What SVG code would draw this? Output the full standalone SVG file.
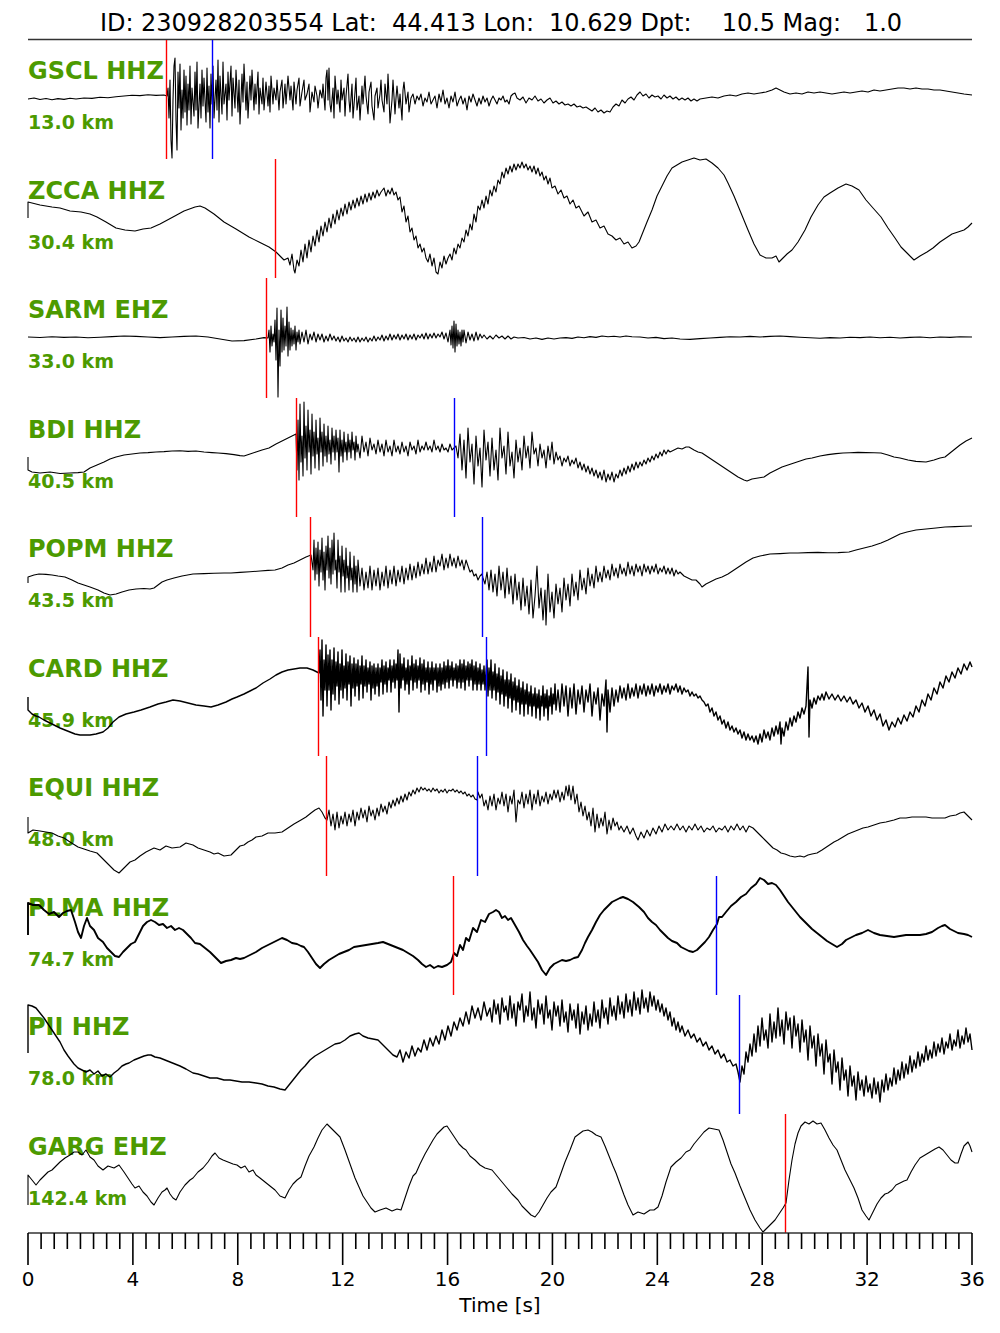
<svg xmlns="http://www.w3.org/2000/svg" width="1000" height="1333" viewBox="0 0 1000 1333">
<style>
.bg{fill:#ffffff}
.title{font-family:"DejaVu Sans","Liberation Sans",sans-serif;font-size:24px;fill:#000;white-space:pre}
.sta{font-family:"DejaVu Sans","Liberation Sans",sans-serif;font-size:24px;font-weight:bold;fill:#4c9a00}
.dist{font-family:"DejaVu Sans","Liberation Sans",sans-serif;font-size:19px;font-weight:bold;fill:#4c9a00}
.tick{font-family:"DejaVu Sans","Liberation Sans",sans-serif;font-size:20px;fill:#000;text-anchor:middle}
.tr{fill:none;stroke:#000;stroke-width:1.1;stroke-linejoin:round}
.fz{stroke-width:1.9}
.fz2{stroke-width:1.4}
.pk{stroke:#ff0000;stroke-width:1.4}
.sk{stroke:#0000ff;stroke-width:1.4}
.frame{stroke:#333;stroke-width:1.5;fill:none}
.tk{stroke:#000;stroke-width:1.6;fill:none}
</style>
<rect class="bg" x="0" y="0" width="1000" height="1333"/>
<text class="title" x="100" y="31" textLength="802" lengthAdjust="spacing">ID: 230928203554 Lat:  44.413 Lon:  10.629 Dpt:    10.5 Mag:   1.0</text>
<line class="frame" x1="28" y1="39.5" x2="972" y2="39.5"/>

<g id="row-GSCL">
<text class="sta" x="28" y="79">GSCL HHZ</text>
<text class="dist" x="28" y="129">13.0 km</text>
<path class="tr" d="M28,99 L34,98 40,99.5 46,98.5 52,99.8 58,98.6 64,99.4 70,98.2 76,99 84,98 92,98.4 100,97.2 108,97.8 116,96.8 124,96 132,95.2 140,95.6 148,94.8 156,95.4 164,95 167,96 168,88 169,118 170,80 171,140 172,158 173,100 174,66 175,58 176,120 177,150 178,72 179,108 180,64 181,130 182,90 183,118 184,70 185,112 186,76 187,125 188,84 189,110 190,66 191,124 192,88 194,116 195,72 196,110 197,62 198,128 200,84 201,118 202,70 203,106 204,78 206,122 207,68 208,112 209,86 210,128 211,74 212,104 213,66 214,118 216,80 217,110 218,60 219,122 220,76 222,114 223,62 224,104 226,84 227,120 228,72 229,100 231,66 232,116 233,78 235,108 236,70 238,112 239,80 240,124 242,74 243,102 244,64 246,110 247,82 248,118 250,76 251,100 252,70 254,110 255,84 256,104 258,72 259,114 260,88 262,104 263,78 264,110 266,82 268,106 269,86 270,112 271,76 273,104 274,88 276,100 277,80 279,110 280,92 282,80 283,108 285,84 286,104 288,76 290,100 291,86 293,110 294,82 296,104 297,90 299,78 300,106 302,92 304,80 305,100 307,94 309,84 310,112 312,92 314,102 315,86 317,96 318,108 320,90 322,98 323,84 325,110 326,78 327,70 328,100 329,68 330,104 331,112 333,88 334,118 335,76 337,104 338,90 340,112 341,80 342,100 344,88 345,116 346,96 348,74 349,100 350,112 352,84 353,118 355,92 356,78 357,110 359,96 360,120 362,86 363,104 365,76 366,96 368,114 369,92 371,82 372,106 374,120 375,96 377,88 378,108 380,94 381,80 382,100 384,112 385,84 387,104 388,74 389,96 390,123 392,100 393,80 395,114 396,98 397,86 399,108 400,94 402,120 403,90 404,82 406,104 408,92 409,112 411,98 413,94 415,104 417,96 419,100 421,94 423,106 425,98 427,102 429,92 431,104 433,100 435,96 437,108 439,94 441,102 443,90 445,104 447,98 449,108 451,96 453,102 455,92 457,106 459,100 461,96 463,104 465,98 467,110 469,96 471,102 473,94 475,100 477,106 479,98 481,104 483,96 485,102 487,98 489,106 491,100 493,96 495,100 497,104 499,98 501,100 503,96 505,102 507,100 509,104 511,96 513,94 515,93 517,98 520,100 523,97 526,103 529,98 532,100 535,96 538,101 541,99 544,103 547,100 550,98 553,103 556,101 559,104 562,102 565,105 568,104 571,106 574,104 577,107 580,106 583,108 586,107 589,109 592,111 595,108 598,112 601,110 604,113 607,111 610,112 613,107 616,104 619,106 622,100 625,103 628,99 631,97 634,100 637,95 640,92 643,96 646,94 649,98 652,95 655,97 658,96 661,99 664,95 667,98 670,96 673,99 676,97 679,100 682,98 685,100 688,98 691,101 694,99 697,101 700,99 706,98 712,97 718,98 724,96 730,95 736,96 742,94 748,93 754,94 760,93 766,92 772,90 776,88 780,90 784,92 790,94 796,93 802,94 808,92 814,93 820,92 826,93 832,94 838,93 844,92 850,93 856,92 862,91 868,92 874,90 880,91 886,90 892,89 898,88 904,88 910,89 916,88 922,89 928,89 934,90 940,90 946,91 952,92 958,93 964,94 972,95"/>
<line class="pk" x1="166.5" y1="40" x2="166.5" y2="159"/>
<line class="sk" x1="212.5" y1="40" x2="212.5" y2="159"/>
</g>

<g id="row-ZCCA">
<text class="sta" x="28" y="198.5">ZCCA HHZ</text>
<text class="dist" x="28" y="248.5">30.4 km</text>
<path class="tr" d="M28,218 L28,202 32,203 40,205 52,207 60,208 70,211 81,212 90,214 97,217 106,222 116,228 125,230 135,231 143,229 151,228 160,224 173,217 184,211 195,207 200,206 205,208 214,214 224,222 236,229 249,237 259,242 269,247 276,252 280,256 284,260 288,258 290,265 292,254 294,270 295,273 297,260 299,266 301,250 303,262 305,244 307,258 309,240 311,252 313,236 315,246 317,230 319,242 321,226 323,236 325,222 327,232 329,218 331,228 333,214 335,224 337,210 339,220 341,208 343,216 345,204 347,214 349,202 351,210 353,200 355,208 357,198 359,206 361,196 363,204 365,194 367,202 369,193 371,200 373,192 375,198 377,190 379,196 381,192 384,188 386,196 388,190 390,194 392,188 394,195 396,192 398,200 400,197 402,212 404,206 406,222 408,216 410,232 412,228 414,240 416,236 418,248 420,244 422,252 424,248 426,258 428,262 430,254 432,266 434,258 436,272 438,274 440,262 442,268 444,256 446,264 448,258 450,254 452,260 454,248 456,254 458,244 460,248 462,238 464,242 466,230 468,236 470,224 472,230 474,214 476,222 478,206 480,210 482,200 484,208 486,196 488,204 490,190 492,196 494,186 496,192 498,180 500,184 502,172 504,178 506,168 508,174 510,166 512,172 514,164 516,170 518,164 520,168 522,162 524,168 526,164 528,170 530,166 532,172 534,166 536,174 538,168 540,176 542,172 544,180 546,176 548,184 550,178 552,188 555,186 558,194 561,190 564,198 567,196 570,204 573,200 576,208 579,206 584,216 588,212 592,222 596,220 600,228 604,226 608,234 612,236 616,240 620,238 624,244 628,242 632,248 636,246 639,242 643,232 647,222 652,210 657,196 662,186 667,176 672,168 677,165 682,162 688,160 694,158 700,160 706,159 712,163 718,168 724,175 728,183 734,196 741,213 748,230 754,244 760,255 766,258 772,258 776,256 779,262 783,258 787,254 792,250 798,242 805,230 811,217 818,205 824,197 830,193 838,188 846,184 852,186 859,190 866,200 873,208 881,217 888,228 895,238 901,247 908,254 914,260 920,256 927,252 933,248 940,242 946,238 952,234 958,232 964,230 968,227 972,223"/>
<line class="pk" x1="275.5" y1="159" x2="275.5" y2="278"/>
</g>

<g id="row-SARM">
<text class="sta" x="28" y="318">SARM EHZ</text>
<text class="dist" x="28" y="368">33.0 km</text>
<path class="tr" d="M28,337 L40,337.5 52,336.8 64,337.4 76,337 88,337.8 100,337.2 112,336.6 124,336 136,336.4 148,337 160,337.6 172,337 184,336.4 196,336 208,337 220,339 232,341 244,340.6 256,339 264,337.6 268,338 269,330 270,352 271,326 272,346 273,334 274,342 275,320 276,360 277,308 278,397 279,330 280,366 281,310 282,352 283,318 284,350 285,326 286,346 287,307 288,356 289,322 290,350 291,328 292,346 293,330 294,344 295,326 296,350 297,332 298,342 299,330 300,344 302,332 304,342 306,330 308,344 310,334 312,340 314,332 316,342 318,334 320,340 322,334 324,342 326,336 328,341 330,334 332,340 334,336 336,341 338,337 340,342 342,336 344,341 346,338 348,342 350,337 352,341 354,338 356,342 358,337 360,342 362,338 364,341 366,337 368,342 370,338 372,341 374,336 376,341 378,337 380,340 382,335 384,341 386,336 388,340 390,334 392,340 394,335 396,339 398,334 400,340 402,335 404,339 406,334 408,340 410,335 412,339 414,334 416,340 418,335 420,338 422,334 424,339 426,333 428,339 430,334 432,338 434,333 436,338 438,334 440,337 442,332 444,339 446,333 448,342 450,330 451,345 452,326 453,348 454,321 455,352 456,324 457,346 458,330 459,344 460,332 461,346 462,330 463,342 464,330 466,343 468,332 470,340 472,334 474,341 476,332 478,340 480,334 482,338 484,335 487,339 490,336 493,339 496,335 499,338 502,336 505,339 508,336 511,339 514,337 518,338 524,337.5 530,339 536,338 542,339.4 548,338 554,339 560,338 566,337.6 572,338.4 578,337 584,337.8 590,336.6 596,337.4 602,336 608,336.8 614,336.2 620,337 626,336 632,336.8 640,337 648,338 656,337.4 664,338.6 672,338 680,339 690,339.4 700,338.6 710,338 720,337.4 730,336.8 740,337 750,336.4 760,337 770,336.4 780,336 790,336.6 800,337.2 810,337.8 820,338.2 830,337.6 840,338 850,337.2 860,337.6 870,337 880,337.8 890,337.2 900,338 910,337.4 920,337 930,337.8 940,337 950,337.4 960,336.8 972,337"/>
<line class="pk" x1="266.5" y1="278" x2="266.5" y2="398"/>
</g>

<g id="row-BDI">
<text class="sta" x="28" y="437.5">BDI HHZ</text>
<text class="dist" x="28" y="487.5">40.5 km</text>
<path class="tr" d="M28,457 L28,470 32,472 40,473 50,472 60,473.5 70,473 78,472.6 84,472 90,468 97,465 104,462 110,459 116,457 124,455 132,454 140,453 148,452.6 156,452 164,451.6 172,451 180,450.8 188,451.4 196,451 204,452 212,452.6 218,453 226,453.6 234,454.6 240,455.6 244,456 250,454 256,452 262,450 269,448 276,444 282,441 288,438 294,435 296,434 297,470 298,420 299,480 300,404 301,462 302,436 303,476 304,402 305,458 306,426 307,470 308,410 309,452 310,430 311,474 312,414 313,456 314,432 315,468 316,420 317,454 318,438 319,470 320,418 321,452 322,432 323,466 324,424 325,456 326,436 327,462 328,426 329,454 330,440 331,464 332,428 333,452 334,436 335,460 336,430 337,452 338,438 339,472 340,430 341,456 342,440 343,462 344,432 345,452 346,442 347,460 348,434 349,452 350,440 351,458 352,432 353,450 354,442 355,460 356,436 357,452 358,444 360,458 362,436 364,452 366,442 368,456 370,438 372,450 374,444 376,454 378,440 380,452 382,444 384,456 386,440 388,452 390,446 392,456 394,440 396,452 398,446 400,454 402,442 404,452 406,446 408,456 410,442 412,450 414,446 416,454 418,440 420,452 422,446 424,450 426,442 428,450 430,446 432,452 434,440 436,450 438,446 440,452 442,444 444,450 446,448 448,452 450,444 452,450 454,448 456,446 458,458 460,434 462,470 464,440 466,478 468,428 470,462 472,444 474,484 476,436 478,466 480,448 482,487 484,430 486,460 488,442 490,476 492,438 494,470 496,450 498,480 500,428 502,458 504,446 506,474 508,432 510,466 512,452 514,478 516,440 518,462 520,448 522,470 524,436 526,458 528,446 530,468 532,432 534,454 536,448 538,466 540,444 542,458 544,450 546,468 548,446 550,460 552,442 554,464 556,452 558,460 560,456 562,466 564,458 566,462 568,456 570,466 572,460 574,464 576,458 578,468 580,462 582,470 584,464 586,472 588,466 590,474 592,468 594,476 596,470 598,478 600,472 602,480 604,470 606,482 608,474 610,480 612,472 614,482 616,474 618,478 620,470 622,476 624,468 626,474 628,466 630,472 632,464 634,470 636,462 638,468 640,462 642,466 644,460 646,464 648,458 650,462 652,456 654,460 656,454 658,458 660,452 662,456 664,450 666,454 668,450 670,452 674,450 678,448 682,449 686,447 689,447 694,450 698,452 702,453 708,457 714,461 720,465 726,469 732,473 738,477 744,480 747,481 752,479 758,478 764,477 770,473 776,470 782,467 788,465 794,463 800,461 806,459 812,458 820,456 828,454.6 836,453.6 843,453 850,452.8 858,452.4 866,452.6 874,452.8 881,453 888,455 894,457 900,458 908,460 916,461.4 926,462 934,460 940,458 945,457 950,453 955,449 960,445 966,441 972,438"/>
<line class="pk" x1="296.5" y1="398" x2="296.5" y2="517"/>
<line class="sk" x1="454.5" y1="398" x2="454.5" y2="517"/>
</g>

<g id="row-POPM">
<text class="sta" x="28" y="557">POPM HHZ</text>
<text class="dist" x="28" y="607">43.5 km</text>
<path class="tr" d="M28,583 L28,577 34,575 39,574 46,574.4 52,575 58,576 65,577 72,580 78,583 84,585 90,587 98,590 104,593 110,595 116,594 122,592 129,590 136,589 144,588.5 150,589 154,588 158,585 162,582 167,580 174,578 182,576 193,574 204,573.6 214,573.2 224,573 231,573 240,572.4 250,571.8 260,571 268,570.4 275,570 282,568 288,565 294,563 300,560 306,557 311,555 313,570 314,540 315,580 316,548 317,574 318,542 319,586 320,550 321,572 322,538 323,580 324,552 325,590 326,546 327,570 328,536 329,578 330,548 331,584 332,540 333,574 334,533 335,570 336,560 337,588 338,540 339,572 340,556 341,592 342,546 343,576 344,560 345,592 346,548 347,578 348,566 349,590 350,552 351,580 352,568 353,592 354,556 355,584 356,566 357,592 358,560 360,586 362,568 364,590 366,572 368,588 370,566 372,590 374,570 376,586 378,568 380,590 382,572 384,586 386,566 388,588 390,570 392,584 394,566 396,586 398,570 400,582 402,566 404,584 406,568 408,580 410,564 412,580 414,566 416,578 418,562 420,576 422,564 424,574 426,558 428,574 430,562 432,572 434,556 436,572 438,560 440,566 442,554 444,570 446,558 448,568 450,554 452,566 454,558 456,568 458,556 460,566 462,560 464,570 466,560 468,566 470,572 472,570 474,576 476,574 478,580 480,576 482,574 483,578 485,584 487,572 489,590 491,570 493,592 495,574 497,596 499,566 501,590 503,572 505,598 507,568 509,594 511,576 513,604 515,574 517,600 519,582 521,610 523,578 525,606 527,586 529,614 531,580 533,618 535,596 537,566 539,608 541,588 543,620 545,590 546,625 548,574 550,612 552,592 554,618 556,584 558,604 560,588 562,612 564,578 566,600 568,584 570,606 572,574 574,596 576,582 578,600 580,570 582,590 584,578 586,594 588,568 590,586 592,574 594,588 596,566 598,582 600,572 602,582 604,566 606,578 608,570 610,580 612,564 614,576 616,568 618,578 620,564 622,574 624,568 626,576 628,562 630,574 632,566 634,576 636,564 638,572 640,566 642,576 644,564 646,572 648,566 650,574 652,566 654,572 656,564 658,574 660,568 662,572 664,566 666,574 668,568 670,574 672,568 674,576 676,570 678,574 680,572 684,576 688,578 692,580 696,580 700,584 702,587 706,584 710,582 716,579 722,577 728,574 734,570 740,566 746,562 753,558 760,556 770,554 780,553.6 790,553 798,553 808,552.6 818,552.4 828,552.8 838,552.6 849,552 856,550 864,548 872,546 881,543 888,540 894,537 900,534 907,532 916,530 926,529 936,528 945,527 955,526.6 964,526.2 972,526"/>
<line class="pk" x1="310.5" y1="517" x2="310.5" y2="637"/>
<line class="sk" x1="482.5" y1="517" x2="482.5" y2="637"/>
</g>

<g id="row-CARD">
<text class="sta" x="28" y="676.5">CARD HHZ</text>
<text class="dist" x="28" y="726.5">45.9 km</text>
<path class="tr fz2" d="M28,697 L28,710 32,714 36,716 39,717 44,720 50,723 56,726 60,728 65,730 70,732 75,734 80,735 84,735 90,735 96,734 103,732 108,728 113,722 119,717 126,714 134,712 141,710 150,707 158,704 166,702 173,700 180,701 188,703 196,705 204,706 211,707 218,705 226,702 232,699 237,697 244,694 250,691 256,688 263,683 270,679 276,675 282,672 288,670 294,669 300,668 307,668 313,670 319,673 320,650 321,700 322,640 323,716 324,660 325,690 326,645 327,706 328,655 329,690 330,650 331,710 332,660 333,694 334,648 335,700 336,662 337,686 338,652 339,704 340,664 341,690 342,650 343,698 344,666 345,688 346,654 347,700 348,662 349,684 350,656 351,706 352,664 353,688 354,658 355,696 356,664 357,686 358,660 359,700 360,666 361,684 362,656 363,698 364,666 365,686 366,660 367,692 368,668 369,684 370,662 371,700 372,666 373,688 374,664 375,694 376,668 377,686 378,664 379,696 380,668 381,682 382,660 383,694 384,666 385,684 386,662 387,692 388,668 389,680 390,660 391,692 392,666 393,682 394,660 395,688 396,664 397,680 398,650 399,712 400,654 401,688 402,664 403,680 404,658 405,690 406,668 407,684 408,660 409,694 410,666 411,680 412,656 413,690 414,664 415,682 416,660 417,688 418,666 419,680 420,658 421,692 422,664 423,684 424,660 425,690 426,668 427,682 428,662 429,694 430,668 431,684 432,662 433,690 434,668 435,680 436,664 437,692 438,668 439,686 440,664 441,690 442,668 443,684 444,662 445,688 446,666 447,682 448,660 449,688 450,666 451,680 452,662 453,686 454,668 455,680 456,664 457,688 458,666 459,682 460,660 461,688 462,664 463,682 464,660 465,690 466,666 467,680 468,662 469,686 470,664 471,680 472,660 473,690 474,666 475,684 476,662 477,690 478,668 479,684 480,664 481,690 482,670 483,684 484,666 485,690 486,672 487,660 488,696 489,668 490,690 491,660 492,698 493,672 494,690 495,664 496,700 497,674 498,692 499,668 500,704 501,676 502,694 503,670 504,706 505,680 506,696 507,672 508,708 509,680 510,698 511,674 512,712 513,682 514,700 515,678 516,710 517,686 518,702 519,680 520,714 521,688 522,704 523,682 524,716 525,690 526,704 527,684 528,714 529,692 530,706 531,686 532,716 533,694 534,706 535,688 536,718 537,694 538,708 539,690 540,720 541,696 542,706 543,686 544,716 545,694 546,708 547,690 548,720 549,696 550,706 551,688 552,714 553,694 554,704 555,684 556,710 558,690 560,712 562,684 564,706 566,686 568,716 570,688 572,708 574,684 576,714 578,690 580,704 582,686 584,712 586,690 588,702 590,684 592,716 594,692 596,704 598,688 600,720 602,694 604,706 606,680 607,732 608,690 610,712 612,688 614,706 616,690 618,702 620,686 622,698 624,688 626,700 628,684 630,698 632,688 634,696 636,684 638,698 640,686 642,694 644,684 646,696 648,686 650,694 652,684 654,696 656,686 658,692 660,684 662,694 664,686 666,692 668,684 670,694 672,686 674,690 676,684 678,692 680,686 682,694 684,688 686,692 688,690 690,696 692,692 694,696 696,694 698,698 700,696 702,700 704,702 706,706 708,704 710,712 712,708 714,716 716,712 718,720 720,716 722,724 724,720 726,728 728,722 730,730 732,726 734,732 736,728 738,734 740,730 742,738 744,732 746,740 748,734 750,740 752,736 754,742 756,736 758,744 760,734 762,742 764,730 766,738 768,732 770,740 772,728 774,736 776,726 778,734 780,722 781,744 782,728 784,736 786,722 788,730 790,718 792,726 794,716 796,722 798,712 800,718 802,708 804,714 806,706 808,667 809,737 810,700 812,708 814,698 816,704 818,696 820,700 822,694 824,700 826,692 829,699 832,694 835,700 838,695 841,701 844,696 847,702 850,697 853,704 856,700 859,708 862,703 865,712 868,706 871,716 874,710 877,720 880,714 883,726 886,720 889,730 892,722 895,727 898,718 901,724 904,715 907,721 910,712 913,717 916,706 919,712 922,700 925,706 928,694 931,700 934,688 937,694 940,682 943,688 946,676 949,682 952,672 955,678 958,668 961,674 964,664 967,670 970,662 972,667"/>
<line class="pk" x1="318.5" y1="637" x2="318.5" y2="756"/>
<line class="sk" x1="486.5" y1="637" x2="486.5" y2="756"/>
</g>

<g id="row-EQUI">
<text class="sta" x="28" y="796">EQUI HHZ</text>
<text class="dist" x="28" y="846">48.0 km</text>
<path class="tr" d="M28,817 L28,833 33,830 40,831 46,832 52,833 58,836 64,838 70,842 78,847 84,849 90,851 97,853 102,858 108,864 114,870 119,873 124,868 130,862 135,860 140,856 146,852 150,850 154,848 160,850 166,846 172,848 180,847 186,843 193,845 198,848 204,850 210,852 214,854 218,853 224,856 231,855 236,850 240,846 244,845 248,842 252,840 256,837 262,836 268,833 275,833 282,832 288,828 294,824 301,820 306,817 311,813 315,810 319,808 322,812 325,818 327,820 329,810 331,826 333,814 335,830 337,812 339,828 341,816 343,824 345,812 347,826 349,814 351,822 353,810 355,826 357,812 359,820 361,808 363,818 365,810 367,822 369,806 371,816 373,810 375,820 377,808 379,816 381,804 383,812 385,806 387,814 389,802 391,808 393,800 395,806 397,798 399,804 401,796 403,802 405,794 407,800 409,792 411,796 413,790 415,794 417,788 419,792 421,787 423,790 425,788 427,791 429,789 431,792 433,788 435,791 437,789 439,793 441,790 443,792 445,789 447,793 449,790 451,791 453,789 455,792 457,790 459,793 461,791 463,794 465,792 467,796 469,794 471,797 473,795 475,799 477,800 478,792 480,798 482,794 484,806 486,800 488,810 490,796 492,806 494,794 496,810 498,798 500,804 502,792 504,806 506,794 508,812 510,796 512,804 514,790 516,822 518,800 520,804 522,792 524,808 526,794 528,804 530,790 532,810 534,794 536,804 538,790 540,806 542,796 544,802 546,792 548,804 550,794 552,800 554,790 556,798 558,790 560,802 562,792 564,800 566,786 568,796 569,785 571,800 573,786 575,804 577,794 579,812 581,802 583,816 585,806 587,820 589,812 591,826 593,808 595,832 597,814 599,828 601,818 603,826 605,812 607,834 609,820 611,830 613,818 615,826 617,822 619,830 621,826 624,832 627,826 630,834 633,828 636,836 638,840 641,832 644,838 647,830 650,836 653,828 656,834 659,826 662,832 665,824 668,830 671,826 674,830 677,824 680,830 683,826 686,832 689,826 692,830 695,824 698,830 701,826 704,832 707,828 710,830 713,826 716,832 719,828 722,830 725,826 728,832 731,826 734,830 737,824 740,830 743,826 746,832 749,826 753,828 757,832 761,836 765,840 769,844 773,848 777,850 781,853 785,854 790,856 795,857 800,856 804,857 808,855 812,854 817,853 822,850 828,846 834,842 838,840 843,837 848,834 853,832 858,830 863,828 868,827 874,825 880,823 886,822 894,820 900,818 906,818 912,817 918,817 926,817 932,818 938,818 945,818 950,816 956,815 960,813 964,812 968,816 972,820"/>
<line class="pk" x1="326.5" y1="756" x2="326.5" y2="876"/>
<line class="sk" x1="477.5" y1="756" x2="477.5" y2="876"/>
</g>

<g id="row-PLMA">
<text class="sta" x="28" y="915.5">PLMA HHZ</text>
<text class="dist" x="28" y="965.5">74.7 km</text>
<path class="tr fz" d="M28,935 L28,903 33,905 39,905 44,910 49,914 54,912 59,917 63,913 67,911 71,910 75,922 78,932 81,938 84,926 87,918 90,926 94,930 98,938 103,942 107,948 111,952 115,956 119,957 123,952 127,948 131,944 135,942 139,934 143,926 147,922 151,920 155,922 159,925 163,924 167,928 171,926 175,930 179,928 183,930 187,934 191,938 195,943 200,944 205,948 210,952 215,957 221,963 226,961 231,960 236,958 240,959 244,958 250,955 256,952 262,948 268,945 274,942 278,940 282,938 287,940 292,943 297,944 301,946 304,947 308,952 312,958 316,964 320,968 324,964 329,960 334,957 339,954 344,952 349,950 354,947 360,946 366,945 372,944 378,943 383,942 388,944 393,946 398,948 403,950 408,953 413,956 418,960 422,964 426,967 430,965 434,968 438,966 442,967 447,965 451,962 454,953 457,956 460,945 463,950 466,938 469,941 473,928 477,932 481,920 485,922 489,914 493,912 496,910 499,912 502,918 505,916 508,920 511,918 515,925 519,932 523,940 527,946 530,950 534,956 538,962 542,970 546,975 550,968 554,964 558,962 562,960 566,961 570,960 574,958 578,957 582,950 585,943 588,937 592,930 596,922 600,915 604,910 608,906 612,902 616,900 620,898 623,897 628,899 633,902 639,907 644,912 648,918 652,922 656,925 660,930 664,934 668,938 672,941 677,943 681,947 685,949 689,951 693,952 697,950 701,946 705,942 709,937 713,930 717,924 719,917 722,917 726,912 731,906 736,902 741,897 746,894 751,888 756,884 760,878 764,880 768,884 772,883 776,885 780,890 784,896 788,902 792,907 796,912 800,917 804,921 808,925 812,929 817,933 822,937 827,941 832,944 837,947 842,944 846,940 850,938 856,935 862,933 868,930 874,933 880,935 887,936 894,937 900,936 906,935 913,935 920,935 926,934 932,932 938,928 942,926 945,925 950,929 954,931 958,933 964,934 968,935 972,937"/>
<line class="pk" x1="453.5" y1="876" x2="453.5" y2="995"/>
<line class="sk" x1="716.5" y1="876" x2="716.5" y2="995"/>
</g>

<g id="row-PII">
<text class="sta" x="28" y="1035">PII HHZ</text>
<text class="dist" x="28" y="1085">78.0 km</text>
<path class="tr fz2" d="M28,1053 L28,1005 32,1006 36,1008 40,1013 44,1018 48,1024 52,1030 56,1036 60,1042 64,1050 68,1056 71,1060 74,1064 78,1068 82,1070 86,1072 90,1070 94,1074 98,1071 102,1076 106,1074 110,1077 114,1073 118,1070 122,1066 126,1064 129,1063 134,1060 139,1058 144,1056 148,1055 151,1055 155,1057 160,1058 165,1060 170,1062 175,1064 180,1066 186,1069 193,1073 198,1074 204,1076 210,1078 217,1078 224,1080 230,1080 236,1081 242,1082 249,1082 256,1083 262,1084 268,1086 274,1087 280,1089 285,1090 289,1085 293,1080 297,1075 301,1070 305,1066 310,1060 315,1056 320,1053 325,1050 330,1047 335,1044 340,1043 345,1040 350,1036 355,1034 359,1033 363,1036 368,1038 373,1039 378,1040 382,1044 386,1048 390,1052 393,1055 397,1057 400,1050 403,1062 406,1052 409,1058 412,1046 415,1056 418,1048 421,1052 424,1040 427,1050 430,1038 433,1046 436,1036 439,1044 442,1030 445,1040 448,1026 451,1036 454,1022 457,1030 460,1018 463,1026 466,1012 469,1024 472,1006 475,1018 478,1008 481,1020 484,1002 487,1016 490,1008 492,1022 494,1000 496,1014 498,1004 500,1024 502,998 504,1012 506,1006 508,1020 510,996 512,1018 514,1004 516,1026 518,1002 520,1010 522,994 524,1022 526,1006 528,1016 530,992 532,1020 534,1008 536,1028 538,1000 540,1014 542,1004 544,1024 546,996 548,1018 550,1010 552,1030 554,1002 556,1016 558,1006 560,1026 562,1000 564,1022 566,1012 568,1032 570,1004 572,1020 574,1010 576,1028 578,1004 580,1034 582,1012 584,1024 586,1006 588,1030 590,1014 592,1026 594,1002 596,1022 598,1010 600,1028 602,1000 604,1018 606,1008 608,1024 610,998 612,1016 614,1006 616,1020 618,996 620,1014 622,1002 624,1018 626,994 628,1012 630,1000 632,1016 634,992 636,1010 638,998 640,1014 642,990 644,1008 646,998 648,1012 650,992 652,1006 654,996 656,1010 658,1000 660,1012 662,1004 664,1016 666,1008 668,1020 670,1012 672,1026 674,1018 676,1030 678,1022 680,1032 682,1026 685,1036 688,1030 691,1038 694,1034 697,1042 700,1038 703,1046 706,1042 709,1050 712,1046 715,1054 718,1050 721,1058 724,1054 727,1062 730,1060 733,1066 736,1064 738,1072 740,1082 742,1066 744,1074 746,1052 748,1062 750,1044 752,1056 754,1034 756,1052 758,1026 760,1046 762,1018 764,1040 766,1030 768,1048 770,1014 772,1042 774,1022 776,1038 778,1008 780,1036 782,1020 784,1044 786,1012 788,1030 790,1018 792,1048 794,1016 796,1036 798,1024 800,1052 802,1020 804,1042 806,1030 808,1060 810,1026 812,1048 814,1036 816,1066 818,1034 820,1056 822,1044 824,1074 826,1040 828,1062 830,1054 832,1084 834,1050 836,1072 838,1062 840,1090 842,1058 844,1080 846,1070 848,1096 850,1066 852,1086 854,1076 856,1100 858,1072 860,1090 862,1080 864,1096 866,1076 868,1092 870,1084 872,1098 874,1078 876,1094 878,1082 880,1102 882,1080 884,1092 886,1074 888,1090 890,1078 892,1086 894,1068 896,1084 898,1070 900,1080 902,1062 904,1078 906,1064 908,1074 910,1056 912,1072 914,1060 916,1068 918,1052 920,1066 922,1054 924,1062 926,1046 928,1060 930,1050 932,1058 934,1042 936,1056 938,1044 940,1052 942,1038 944,1054 946,1042 948,1048 950,1034 952,1050 954,1040 956,1046 958,1030 960,1048 962,1036 964,1044 966,1028 968,1042 970,1034 972,1050"/>
<line class="sk" x1="739.5" y1="995" x2="739.5" y2="1114"/>
</g>

<g id="row-GARG">
<text class="sta" x="28" y="1154.5">GARG EHZ</text>
<text class="dist" x="28" y="1204.5">142.4 km</text>
<path class="tr" d="M28,1205 L28,1175 32,1180 36,1185 40,1180 44,1176 48,1172 52,1170 56,1166 60,1162 65,1158 70,1155 74,1152 78,1152 82,1155 86,1150 90,1157 94,1160 98,1166 103,1170 108,1166 114,1168 119,1165 124,1172 128,1178 132,1184 135,1188 139,1186 143,1192 147,1196 151,1202 154,1205 158,1198 162,1192 165,1190 167,1188 170,1194 173,1198 176,1200 180,1192 185,1185 190,1180 193,1178 198,1172 203,1168 208,1162 212,1156 215,1153 219,1158 223,1160 228,1162 233,1164 237,1165 241,1168 245,1166 249,1172 253,1170 256,1175 260,1178 265,1182 270,1186 275,1190 280,1196 285,1198 289,1190 293,1184 297,1180 301,1177 305,1166 309,1156 314,1147 318,1138 322,1130 327,1124 331,1128 335,1132 340,1137 345,1150 350,1164 355,1178 359,1187 363,1196 367,1202 371,1208 375,1212 380,1210 386,1208 392,1211 397,1209 401,1210 405,1198 409,1186 413,1176 416,1173 420,1164 425,1154 429,1147 433,1140 437,1134 441,1130 444,1127 447,1126 451,1132 455,1138 459,1144 463,1148 466,1150 470,1156 475,1160 480,1165 485,1168 492,1170 497,1176 502,1182 507,1188 512,1194 518,1200 522,1206 527,1211 531,1215 535,1217 539,1212 543,1205 547,1198 551,1192 556,1187 560,1176 565,1162 570,1150 575,1137 579,1134 583,1131 588,1130 592,1132 596,1135 601,1137 605,1146 609,1156 613,1166 616,1173 620,1184 624,1195 628,1205 633,1215 638,1212 644,1214 650,1210 654,1210 658,1207 662,1196 666,1182 671,1167 676,1162 681,1158 686,1152 690,1150 694,1144 699,1138 704,1132 709,1128 714,1129 719,1130 723,1140 727,1152 731,1164 735,1173 740,1186 745,1198 750,1210 755,1220 760,1228 763,1232 767,1228 771,1224 775,1220 779,1214 783,1208 786,1203 789,1180 792,1160 795,1144 798,1133 801,1126 805,1122 809,1124 813,1121 817,1124 821,1123 825,1130 829,1138 833,1145 837,1150 841,1160 845,1170 850,1180 854,1188 858,1198 862,1210 866,1216 869,1220 873,1212 877,1204 881,1198 885,1194 888,1193 892,1190 896,1185 900,1183 904,1181 907,1180 911,1172 915,1165 920,1158 925,1155 930,1152 935,1149 939,1147 943,1150 947,1155 951,1160 955,1163 958,1163 961,1154 964,1146 968,1142 970,1146 972,1152"/>
<line class="pk" x1="785.5" y1="1114" x2="785.5" y2="1233"/>
</g>

<g id="axis">
<line class="frame" x1="28" y1="1233" x2="972" y2="1233"/>
<path class="tk" d="M28,1233V1265 M41.11,1233V1249 M54.22,1233V1249 M67.33,1233V1249 M80.44,1233V1249 M93.56,1233V1249 M106.67,1233V1249 M119.78,1233V1249 M132.89,1233V1265 M146,1233V1249 M159.11,1233V1249 M172.22,1233V1249 M185.33,1233V1249 M198.44,1233V1249 M211.56,1233V1249 M224.67,1233V1249 M237.78,1233V1265 M250.89,1233V1249 M264,1233V1249 M277.11,1233V1249 M290.22,1233V1249 M303.33,1233V1249 M316.44,1233V1249 M329.56,1233V1249 M342.67,1233V1265 M355.78,1233V1249 M368.89,1233V1249 M382,1233V1249 M395.11,1233V1249 M408.22,1233V1249 M421.33,1233V1249 M434.44,1233V1249 M447.56,1233V1265 M460.67,1233V1249 M473.78,1233V1249 M486.89,1233V1249 M500,1233V1249 M513.11,1233V1249 M526.22,1233V1249 M539.33,1233V1249 M552.44,1233V1265 M565.56,1233V1249 M578.67,1233V1249 M591.78,1233V1249 M604.89,1233V1249 M618,1233V1249 M631.11,1233V1249 M644.22,1233V1249 M657.33,1233V1265 M670.44,1233V1249 M683.56,1233V1249 M696.67,1233V1249 M709.78,1233V1249 M722.89,1233V1249 M736,1233V1249 M749.11,1233V1249 M762.22,1233V1265 M775.33,1233V1249 M788.44,1233V1249 M801.56,1233V1249 M814.67,1233V1249 M827.78,1233V1249 M840.89,1233V1249 M854,1233V1249 M867.11,1233V1265 M880.22,1233V1249 M893.33,1233V1249 M906.44,1233V1249 M919.56,1233V1249 M932.67,1233V1249 M945.78,1233V1249 M958.89,1233V1249 M972,1233V1265"/>
<text class="tick" x="28" y="1286">0</text>
<text class="tick" x="132.89" y="1286">4</text>
<text class="tick" x="237.78" y="1286">8</text>
<text class="tick" x="342.67" y="1286">12</text>
<text class="tick" x="447.56" y="1286">16</text>
<text class="tick" x="552.44" y="1286">20</text>
<text class="tick" x="657.33" y="1286">24</text>
<text class="tick" x="762.22" y="1286">28</text>
<text class="tick" x="867.11" y="1286">32</text>
<text class="tick" x="972" y="1286">36</text>
<text class="tick" x="500" y="1312">Time [s]</text>
</g>
</svg>
